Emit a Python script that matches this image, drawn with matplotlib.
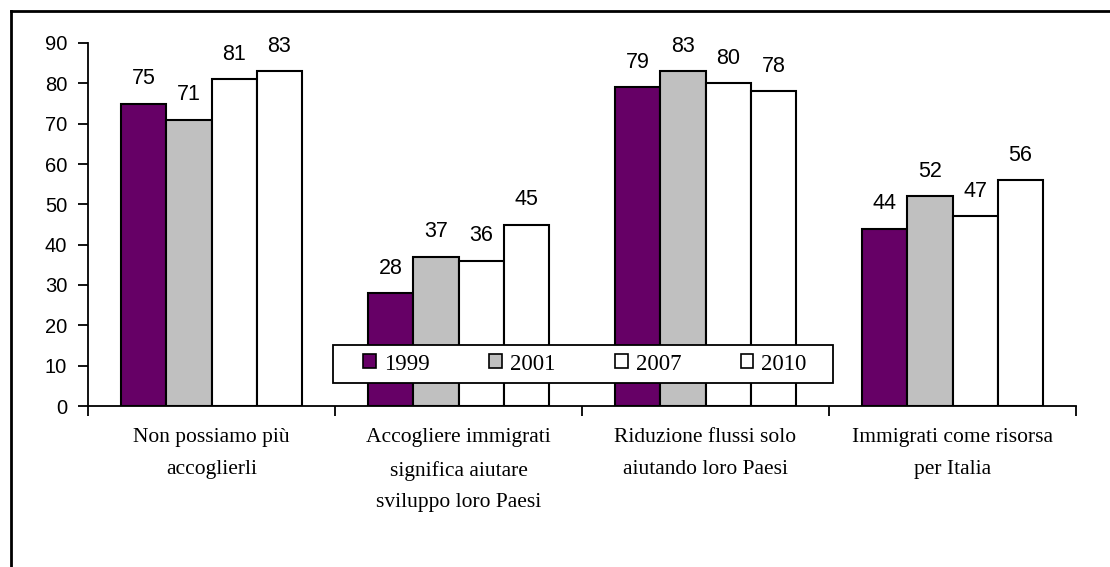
import numpy as np
import matplotlib.pyplot as plt
from matplotlib.lines import Line2D
from matplotlib.patches import Rectangle

categories = ["Non possiamo più\naccoglierli",
              "Accogliere immigrati\nsignifica aiutare\nsviluppo loro Paesi",
              "Riduzione flussi solo\naiutando loro Paesi",
              "Immigrati come risorsa\nper Italia"]
years = ["1999", "2001", "2007", "2010"]
v1999 = [75, 28, 79, 44]
v2001 = [71, 37, 83, 52]
v2007 = [81, 36, 80, 47]
v2010 = [83, 45, 78, 56]
series = [v1999, v2001, v2007, v2010]
colors = ["#660066", "#c0c0c0", "white", "white"]

W, H = 1110, 567
fig = plt.figure(figsize=(W/100, H/100), dpi=100)
ax = fig.add_axes([88/W, 1 - 406/H, (1076 - 88)/W, (406 - 43)/H])

x = np.arange(len(categories))
w = 0.1835
for k, vals in enumerate(series):
    pos = x + (k - 1.5) * w
    bars = ax.bar(pos, vals, w, color=colors[k], edgecolor="black",
                  linewidth=1.5, label=years[k], zorder=2)
    for b, v in zip(bars, vals):
        ax.text(b.get_x() + b.get_width()/2, v + 3.6, str(v),
                ha="center", va="bottom", fontsize=15.5,
                family="Liberation Sans")

ax.set_xlim(-0.5, 3.5)
ax.set_ylim(0, 90)
ax.set_yticks(range(0, 91, 10))
ax.tick_params(axis="y", direction="out", length=7, width=1.3, pad=8,
               labelsize=14.5)
for t in ax.get_yticklabels():
    t.set_family("Liberation Sans")

ax.set_xticks(np.arange(-0.5, 3.6, 1))
ax.set_xticklabels([])
ax.tick_params(axis="x", which="major", direction="out", length=7, width=1.3)
ax.set_xticks(x, minor=True)
ax.set_xticklabels(categories, minor=True, fontsize=15.5,
                   family="Liberation Serif", linespacing=1.9)
ax.tick_params(axis="x", which="minor", length=0, pad=16)

for s in ["top", "right"]:
    ax.spines[s].set_visible(False)
ax.spines["left"].set_linewidth(1.3)
ax.spines["bottom"].set_linewidth(1.3)

# legend box
ax.add_patch(Rectangle((333/W, 1 - 383/H), 500/W, 38/H, transform=fig.transFigure,
                       facecolor="white", edgecolor="black", lw=1.3,
                       zorder=4, clip_on=False))
leg = ax.legend(loc="center", bbox_to_anchor=(585/W, 1 - 364/H),
                bbox_transform=fig.transFigure, ncol=4, frameon=False,
                prop={"family": "Liberation Serif", "size": 16.5},
                handlelength=0.55, handleheight=0.55, handletextpad=0.35,
                columnspacing=2.6, borderpad=0)
leg.set_zorder(5)
for h in leg.legend_handles:
    h.set_linewidth(1.2)

# outer border (left and top only visible)
fig.add_artist(Line2D([11/W, 11/W], [0, 1 - 11/H], color="black", lw=2))
fig.add_artist(Line2D([11/W, 1], [1 - 11/H, 1 - 11/H], color="black", lw=2))

fig.savefig("out.png", dpi=100)
